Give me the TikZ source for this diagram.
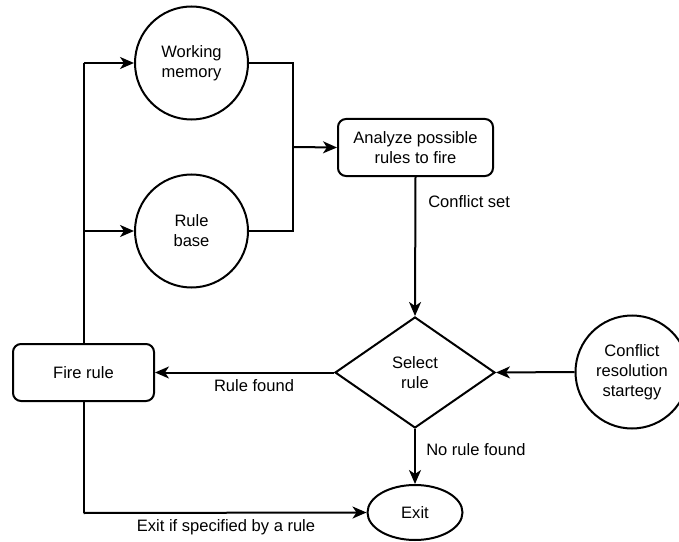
\documentclass[tikz,border=0pt]{standalone}
\usepackage{fontspec}
\setmainfont{Liberation Sans}
\usetikzlibrary{shapes.geometric,arrows.meta}

\tikzset{
  base/.style={draw=black, line width=1.5pt, align=center, inner sep=0pt,
    font=\fontsize{12.4}{15}\selectfont},
  store/.style={base, circle, minimum size=84.75pt},
  procbox/.style={base, rectangle, rounded corners=6pt},
  decision/.style={base, diamond, minimum width=120pt, minimum height=83.25pt},
  terminal/.style={base, ellipse, minimum width=71.25pt, minimum height=41.25pt},
  link/.style={line width=1.5pt, -{Stealth[length=10.5pt, width=9pt, inset=3pt]}},
  wire/.style={line width=1.5pt},
  lbl/.style={font=\fontsize{12.4}{15}\selectfont, inner sep=0pt}
}

\begin{document}
\begin{tikzpicture}[x=0.75pt, y=-0.75pt]
\useasboundingbox (0,0) rectangle (679,542);

% stores and process steps
\node[store] (wm) at (191.5,63) {Working\\memory};
\node[store] (rb) at (191.5,231) {Rule\\base};
\node[procbox, minimum width=116.25pt, minimum height=42.75pt] (an) at (415.5,147.5) {Analyze possible\\rules to fire};
\node[decision] (sel) at (415,372.5) {Select\\rule};
\node[store] (crs) at (632,372) {Conflict\\resolution\\startegy};
\node[procbox, minimum width=105.75pt, minimum height=42.75pt] (fire) at (83.5,372.5) {Fire rule};
\node[terminal] (exit) at (415,512.5) {Exit};

% junction points of the feedback loops
\coordinate (join) at (293,147);
\coordinate (fork) at (83.5,63);
\coordinate (split) at (83.5,231);
\coordinate (corner) at (83.5,513);

% memory and rules feed the analysis
\draw[wire] (wm.east) -| (join) |- (rb.east);
\draw[link] (join) -- (an.west);

% fired rule updates memory and rule base
\draw[wire] (fire.north) -- (fork);
\draw[link] (fork) -- (wm.west);
\draw[link] (split) -- (rb.west);

% conflict set to selection
\draw[link] (an.south) -- (sel.north);
\node[lbl, anchor=west] (cs) at (428,202) {Conflict set};

\draw[link] (crs.west) -- (sel.east);

\draw[link] (sel.west) -- (fire.east);
\node[lbl] (rf) at (254,386) {Rule found};

\draw[link] (sel.south) -- (exit.north);
\node[lbl, anchor=west] (nrf) at (426,450) {No rule found};

\draw[wire] (fire.south) -- (corner);
\draw[link] (corner) -- (exit.west);
\node[lbl] (eis) at (226,527) {Exit if specified by a rule};
\end{tikzpicture}
\end{document}
